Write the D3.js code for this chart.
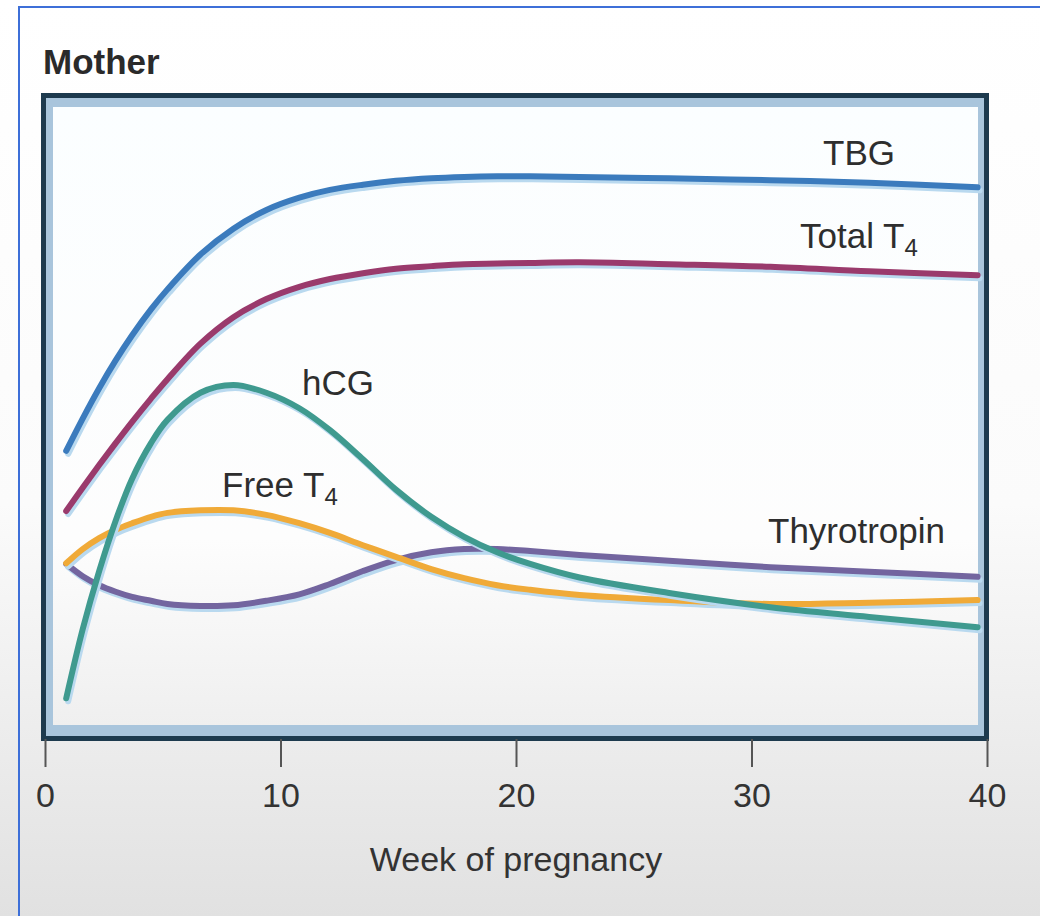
<!DOCTYPE html>
<html>
<head>
<meta charset="utf-8">
<script src="https://cdn.jsdelivr.net/npm/d3@7"></script>
<style>
  html, body { margin: 0; padding: 0; background: #fff; }
  svg { display: block; font-family: "Liberation Sans", Arial, sans-serif; }
</style>
</head>
<body>
<svg id="chart"></svg>
<script>
// week of pregnancy at which each curve was sampled
const weeks = [0.9, 1.6, 2.3, 3, 3.7, 4.5, 5.2, 6.6, 8, 9.4, 10.8, 12.1, 13.5, 14.9, 16.4, 17.8, 19.2, 20.6, 22.7, 26.5, 30.8, 35, 39.6];

// relative level (0 = bottom of panel, 100 = top)
const tbg = [44.6, 49.6, 54.3, 58.6, 62.5, 66.5, 69.6, 75.0, 79.0, 81.9, 83.8, 85.0, 85.8, 86.4, 86.8, 87.0, 87.1, 87.1, 87.0, 86.8, 86.5, 86.1, 85.4];
const totalT4 = [35.3, 38.9, 42.4, 45.8, 49.1, 52.7, 55.7, 61.2, 65.3, 68.1, 70.0, 71.2, 72.1, 72.8, 73.2, 73.5, 73.6, 73.7, 73.8, 73.5, 73.1, 72.4, 71.8];
const hcg = [6.3, 17.0, 26.0, 33.8, 40.3, 45.8, 49.4, 53.6, 54.8, 53.6, 51.2, 47.8, 43.3, 38.6, 34.4, 31.3, 28.9, 27.1, 25.0, 22.6, 20.4, 18.9, 17.3];
const freeT4 = [27.2, 29.4, 31.1, 32.4, 33.4, 34.4, 35.0, 35.4, 35.4, 34.7, 33.4, 31.9, 30.0, 28.2, 26.3, 24.9, 23.8, 23.1, 22.3, 21.5, 20.9, 21.1, 21.5];
const thyrotropin = [27.1, 25.2, 23.8, 22.8, 22.0, 21.4, 20.9, 20.6, 20.7, 21.4, 22.4, 24.0, 26.0, 27.7, 28.9, 29.4, 29.4, 29.1, 28.5, 27.6, 26.6, 25.9, 25.1];

const xTicks = [0, 10, 20, 30, 40];

const width = 1040, height = 916;

const svg = d3.select("#chart")
    .attr("width", width)
    .attr("height", height);

const defs = svg.append("defs");

const bgGrad = defs.append("linearGradient")
    .attr("id", "bg-grad")
    .attr("x1", 0).attr("y1", 0).attr("x2", 0).attr("y2", 1);
bgGrad.append("stop").attr("offset", "0%").attr("stop-color", "#ffffff");
bgGrad.append("stop").attr("offset", "55%").attr("stop-color", "#fbfbfb");
bgGrad.append("stop").attr("offset", "100%").attr("stop-color", "#e1e1e1");

const panelGrad = defs.append("linearGradient")
    .attr("id", "panel-grad")
    .attr("x1", 0).attr("y1", 0).attr("x2", 0).attr("y2", 1);
panelGrad.append("stop").attr("offset", "0%").attr("stop-color", "#fbfeff");
panelGrad.append("stop").attr("offset", "70%").attr("stop-color", "#fdfdfd");
panelGrad.append("stop").attr("offset", "100%").attr("stop-color", "#efefef");

// page background and the thin blue outline of the screenshot
svg.append("rect")
    .attr("width", width).attr("height", height)
    .attr("fill", "url(#bg-grad)");
svg.append("rect")
    .attr("x", 19).attr("y", 7)
    .attr("width", width + 10).attr("height", height + 10)
    .attr("fill", "none")
    .attr("stroke", "#3d6fd8")
    .attr("stroke-width", 2);

const x = d3.scaleLinear().domain([0, 40]).range([45, 987]);
const y = d3.scaleLinear().domain([0, 100]).range([739, 93]);

// panel frame
const panelL = x(0), panelR = x(40), panelT = y(100), panelB = y(0);
svg.append("rect")
    .attr("x", panelL).attr("y", panelT + 4)
    .attr("width", panelR - panelL).attr("height", panelB - panelT - 4)
    .attr("fill", "#a9c5dc");
svg.append("rect")
    .attr("x", panelL + 8).attr("y", panelT + 14)
    .attr("width", panelR - panelL - 17).attr("height", panelB - panelT - 28)
    .attr("fill", "url(#panel-grad)");
svg.append("rect")
    .attr("x", panelL - 1.5).attr("y", panelT + 2.5)
    .attr("width", panelR - panelL + 1).attr("height", panelB - panelT - 3)
    .attr("fill", "none")
    .attr("stroke", "#1d3a4e")
    .attr("stroke-width", 5);

svg.append("text")
    .attr("x", 43).attr("y", 74)
    .attr("font-size", "35px")
    .attr("font-weight", "bold")
    .attr("fill", "#2a2a2a")
    .text("Mother");

// curves
const series = [
    { name: "TBG", values: tbg, color: "#3b7bbd" },
    { name: "Total T4", values: totalT4, color: "#9a3a6c" },
    { name: "Thyrotropin", values: thyrotropin, color: "#73659f" },
    { name: "Free T4", values: freeT4, color: "#f0aa38" },
    { name: "hCG", values: hcg, color: "#3f9a8f" }
];

const line = d3.line()
    .x(d => x(d[0]))
    .y(d => y(d[1]))
    .curve(d3.curveCatmullRom.alpha(0.5));

const curves = svg.append("g");

series.forEach(s => {
    const pts = weeks.map((w, i) => [w, s.values[i]]);
    curves.append("path")
        .attr("d", line(pts))
        .attr("transform", "translate(2,3)")
        .attr("fill", "none")
        .attr("stroke", "#b9d9ef")
        .attr("stroke-width", 6)
        .attr("stroke-linecap", "round");
    curves.append("path")
        .attr("d", line(pts))
        .attr("fill", "none")
        .attr("stroke", s.color)
        .attr("stroke-width", 6)
        .attr("stroke-linecap", "round");
});

// curve labels
const labels = [
    { text: "TBG", sub: null, x: 823, y: 165 },
    { text: "Total T", sub: "4", x: 800, y: 248 },
    { text: "hCG", sub: null, x: 302, y: 395 },
    { text: "Free T", sub: "4", x: 222, y: 497 },
    { text: "Thyrotropin", sub: null, x: 768, y: 543 }
];

labels.forEach(l => {
    const t = svg.append("text")
        .attr("x", l.x).attr("y", l.y)
        .attr("font-size", "35px")
        .attr("fill", "#2e2e2e")
        .text(l.text);
    if (l.sub) {
        t.append("tspan")
            .attr("font-size", "24px")
            .attr("dy", 8)
            .text(l.sub);
    }
});

// x axis
const xAxis = svg.append("g")
    .attr("transform", `translate(0,${panelB})`)
    .call(d3.axisBottom(x).tickValues(xTicks).tickSize(28).tickPadding(16));

xAxis.select(".domain").remove();
xAxis.selectAll(".tick line")
    .attr("stroke", "#555")
    .attr("stroke-width", 2);
xAxis.selectAll(".tick text")
    .attr("font-size", "34px")
    .attr("font-family", "'Liberation Sans', Arial, sans-serif")
    .attr("fill", "#333");

svg.append("text")
    .attr("x", x(20)).attr("y", 871)
    .attr("text-anchor", "middle")
    .attr("font-size", "34px")
    .attr("fill", "#333")
    .text("Week of pregnancy");
</script>
</body>
</html>
